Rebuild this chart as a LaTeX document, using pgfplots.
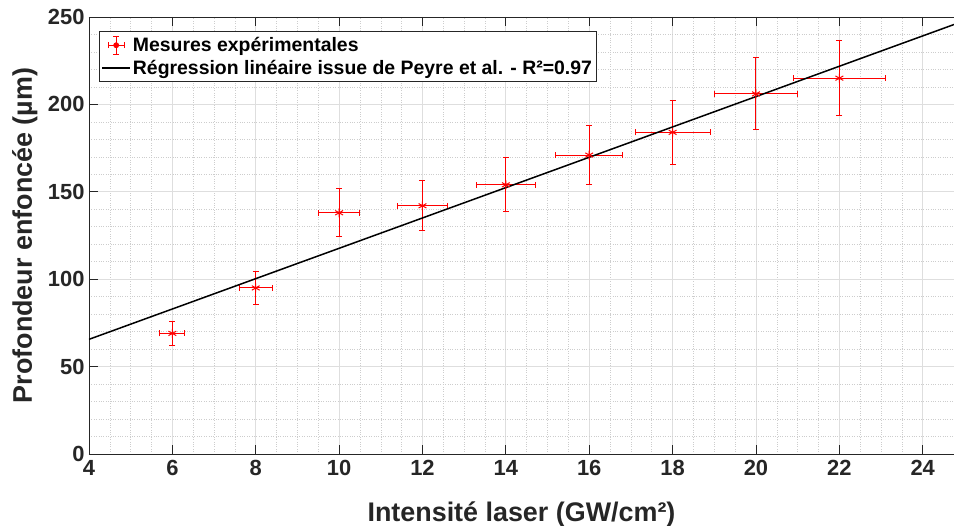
\documentclass[border=0pt]{standalone}
\usepackage{fontspec}
\setmainfont{Liberation Sans}
\usepackage{pgfplots}
\usepackage{pgfplotstable}
\pgfplotsset{compat=1.18}
\definecolor{axgray}{RGB}{38,38,38}
\definecolor{gridmaj}{RGB}{222,222,222}
\definecolor{gridmin}{RGB}{205,205,205}
\pgfplotstableread{
x y ex ey
6 69 0.3 6.9
8 95 0.4 9.5
10 138 0.5 13.8
12 142 0.6 14.2
14 154 0.7 15.4
16 171 0.8 17.1
18 184 0.9 18.4
20 206 1.0 20.6
22 215 1.1 21.5
}\mesures
\begin{document}
\begin{tikzpicture}
\begin{axis}[
  at={(0,0)}, anchor=south west,
  scale only axis, width=865bp, height=437bp,
  xmin=4, xmax=24.75, ymin=0, ymax=250,
  axis x line*=box, axis y line*=left,
  xtick={4,6,...,24}, ytick={0,50,...,250},
  minor x tick num=3, minor y tick num=4,
  grid=both,
  major grid style={gridmaj, line width=0.8bp},
  minor grid style={gridmin, dotted, line width=0.6bp},
  tick align=inside, major tick length=9bp, minor tick length=0pt,
  axis line style={axgray, line width=0.8bp, -},
  every tick/.style={axgray, line width=0.8bp},
  tick label style={font=\fontsize{22}{22}\selectfont\bfseries, text=axgray},
  /pgf/number format/assume math mode=true,
  xticklabel style={yshift=-3bp},
  yticklabel style={xshift=-1bp},
  xlabel={Intensité laser (GW/cm²)},
  ylabel={Profondeur enfoncée (µm)},
  every axis x label/.style={at={(axis description cs:0.5,0)}, anchor=base, yshift=-67bp,
    font=\fontsize{27}{27}\selectfont\bfseries, text=axgray},
  every axis y label/.style={at={(axis description cs:-0.0659,0.5)}, anchor=base, rotate=90,
    font=\fontsize{27}{27}\selectfont\bfseries, text=axgray},
  legend style={at={(axis description cs:0.0116,0.968)}, anchor=north west,
    draw=axgray, fill=white, line width=0.8bp, text=black,
    font=\fontsize{19.5}{21}\selectfont\bfseries,
    inner xsep=2bp, inner ysep=4bp, row sep=3bp},
  legend cell align=left,
]
\addplot[red, only marks, mark=asterisk, mark size=4.5bp, line width=1bp, forget plot,
  error bars/.cd, x dir=both, x explicit, y dir=both, y explicit,
  error bar style={red, line width=1bp},
  error mark options={red, mark size=3bp, line width=1bp, rotate=90}]
  table[x=x, y=y, x error=ex, y error=ey]{\mesures};
\addplot[black, line width=1.5bp, forget plot] coordinates {(4,65.6) (24.75,245.7)};
\addlegendimage{legend image code/.code={
    \draw[red, line width=1bp] (14bp,-9bp) -- (14bp,9bp)
      (11bp,-9bp) -- (17bp,-9bp) (11bp,9bp) -- (17bp,9bp)
      (6bp,0bp) -- (22bp,0bp) (6bp,-3bp) -- (6bp,3bp) (22bp,-3bp) -- (22bp,3bp);
    \fill[red] (14bp,0bp) circle (2.5bp);
  }}
\addlegendentry{Mesures expérimentales}
\addlegendimage{legend image code/.code={
    \draw[black, line width=1.5bp] (0bp,0bp) -- (28bp,0bp);
  }}
\addlegendentry{Régression linéaire issue de Peyre et al. - R²=0.97}
\end{axis}
\pgfresetboundingbox
\path[use as bounding box] (-89bp,-72bp) rectangle (865bp,454bp);
\end{tikzpicture}
\end{document}
